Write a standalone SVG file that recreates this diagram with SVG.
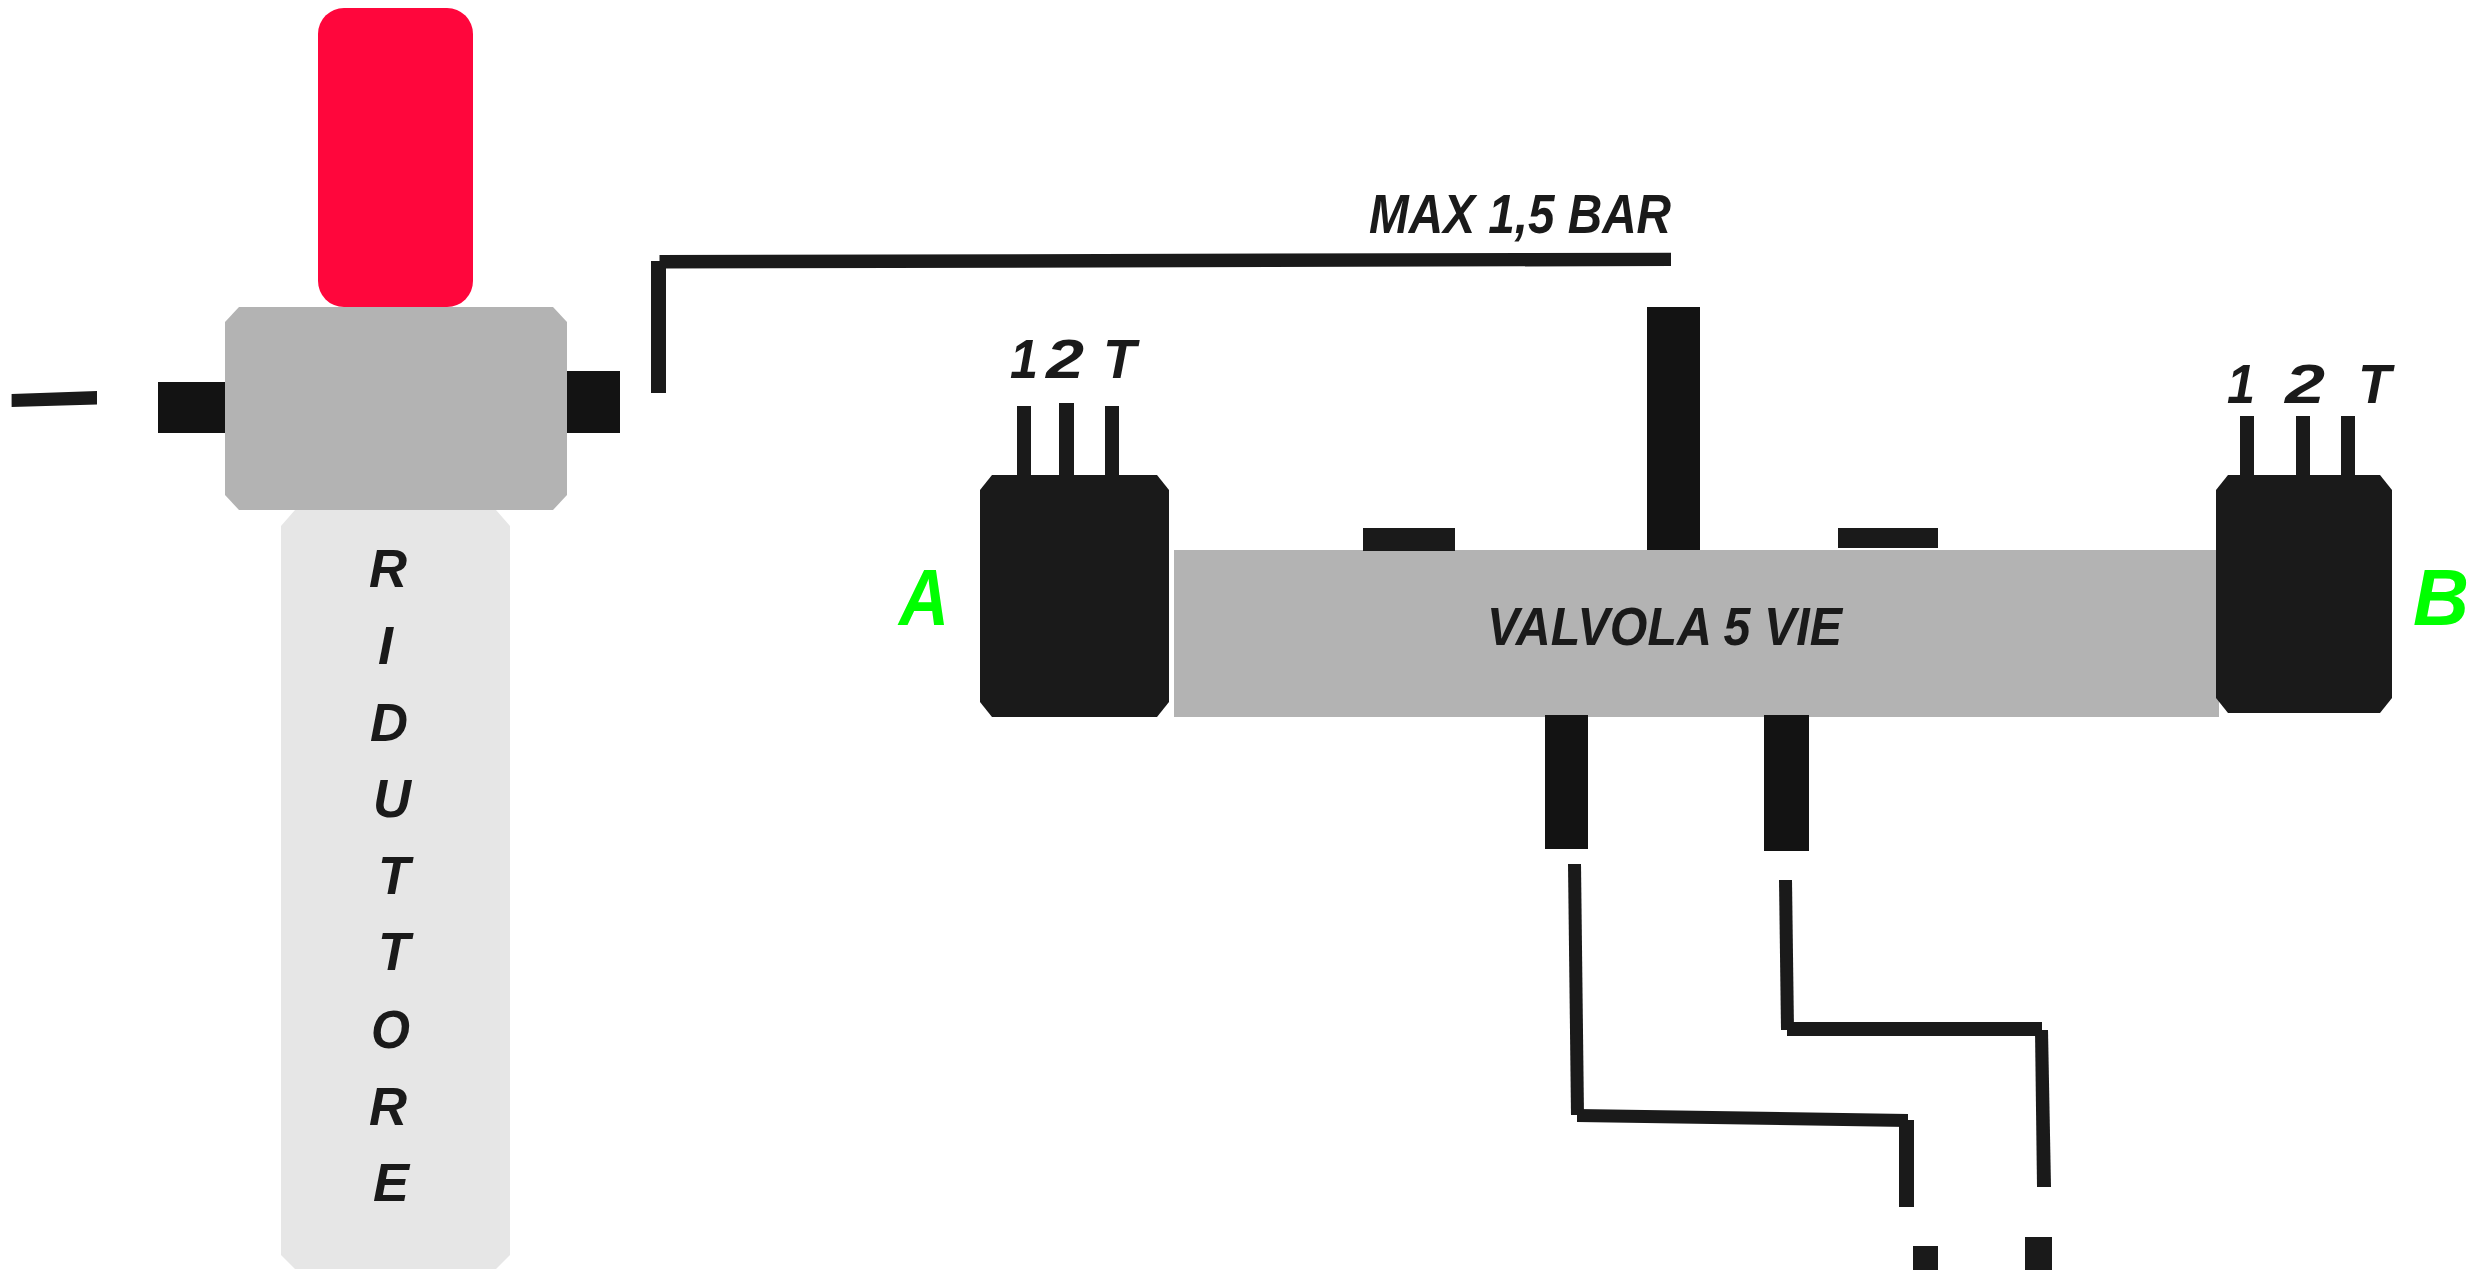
<svg xmlns="http://www.w3.org/2000/svg" width="2486" height="1270" viewBox="0 0 2486 1270">
<style>
.t{font-family:"Liberation Sans",Arial,sans-serif;font-weight:bold;font-style:italic;fill:#1a1a1a}
.g{fill:#00ff00}
.d{fill:#1a1a1a}
.k{fill:#131313}
.m{fill:#b3b3b3}
.r{font-size:54px}
.s{font-size:55px}
</style>
<rect width="2486" height="1270" fill="#fff"/>
<g id="wires">
<polygon class="d" points="11.6,394 97,391 97,404.5 11.6,407"/>
<rect class="d" x="651" y="261" width="15" height="132"/>
<polygon class="d" points="659.5,255 1671,252.7 1671,266 659.5,268.6"/>
<polygon class="d" points="1568,864 1581,864 1584,1115 1571,1115"/>
<polygon class="d" points="1577,1109 1908,1114 1908,1127 1577,1122"/>
<rect class="d" x="1899" y="1120" width="15" height="87"/>
<polygon class="d" points="1779,880 1792,880 1794,1030 1781,1030"/>
<rect class="d" x="1787" y="1022" width="255" height="14"/>
<polygon class="d" points="2035,1030 2048,1030 2051,1187 2037,1187"/>
</g>
<g id="riduttore">
<polygon fill="#e6e6e6" points="295,510 496,510 510,526 510,1255 496,1269 295,1269 281,1255 281,526"/>
<text class="t r" x="369" y="587" textLength="38" lengthAdjust="spacingAndGlyphs">R</text>
<text class="t r" x="378" y="664">I</text>
<text class="t r" x="370" y="741" textLength="38" lengthAdjust="spacingAndGlyphs">D</text>
<text class="t r" x="373" y="817" textLength="38" lengthAdjust="spacingAndGlyphs">U</text>
<text class="t r" x="378" y="894" textLength="32" lengthAdjust="spacingAndGlyphs">T</text>
<text class="t r" x="378" y="970" textLength="32" lengthAdjust="spacingAndGlyphs">T</text>
<text class="t r" x="371" y="1048" textLength="39" lengthAdjust="spacingAndGlyphs">O</text>
<text class="t r" x="369" y="1125" textLength="38" lengthAdjust="spacingAndGlyphs">R</text>
<text class="t r" x="373" y="1201" textLength="36" lengthAdjust="spacingAndGlyphs">E</text>
</g>
<g id="attuatore">
<rect x="318" y="8" width="155" height="299" rx="26" fill="#ff063c"/>
</g>
<g id="corpo">
<rect class="k" x="158" y="382" width="70" height="51"/>
<rect class="k" x="564" y="371" width="56" height="62"/>
<polygon class="m" points="239,307 553,307 567,322 567,495 553,510 239,510 225,495 225,322"/>
</g>
<g id="valvola">
<rect class="k" x="1647" y="307" width="53" height="245"/>
<rect class="m" x="1174" y="550" width="1045" height="167"/>
<rect class="d" x="1363" y="528" width="92" height="23"/>
<rect class="d" x="1838" y="528" width="100" height="20"/>
<rect class="k" x="1545" y="715" width="43" height="134"/>
<rect class="k" x="1764" y="715" width="45" height="136"/>
<text class="t" x="1487" y="645" font-size="53" textLength="355" lengthAdjust="spacingAndGlyphs">VALVOLA 5 VIE</text>
</g>
<g id="bobina-a">
<polygon class="d" points="992,475 1157,475 1169,490 1169,702 1157,717 992,717 980,702 980,490"/>
<rect class="d" x="1017" y="406" width="14" height="75"/>
<rect class="d" x="1059" y="403" width="15" height="78"/>
<rect class="d" x="1105" y="406" width="14" height="75"/>
<text class="t s" x="1010" y="378" textLength="28" lengthAdjust="spacingAndGlyphs">1</text>
<text class="t s" x="1046" y="378" textLength="38" lengthAdjust="spacingAndGlyphs">2</text>
<text class="t s" x="1103" y="378" textLength="33" lengthAdjust="spacingAndGlyphs">T</text>
<text class="g" x="899" y="625" font-family="Liberation Sans,Arial,sans-serif" font-weight="bold" font-style="italic" font-size="79" textLength="50" lengthAdjust="spacingAndGlyphs">A</text>
</g>
<g id="bobina-b">
<polygon class="d" points="2228,475 2380,475 2392,490 2392,698 2380,713 2228,713 2216,698 2216,490"/>
<rect class="d" x="2240" y="416" width="14" height="65"/>
<rect class="d" x="2296" y="416" width="14" height="65"/>
<rect class="d" x="2341" y="416" width="14" height="65"/>
<text class="t s" x="2227" y="403" textLength="28" lengthAdjust="spacingAndGlyphs">1</text>
<text class="t s" x="2285" y="403" textLength="40" lengthAdjust="spacingAndGlyphs">2</text>
<text class="t s" x="2358" y="403" textLength="33" lengthAdjust="spacingAndGlyphs">T</text>
<text class="g" x="2413" y="625" font-family="Liberation Sans,Arial,sans-serif" font-weight="bold" font-style="italic" font-size="79" textLength="56" lengthAdjust="spacingAndGlyphs">B</text>
</g>
<g id="pressione">
<text class="t s" x="1369" y="233" textLength="302" lengthAdjust="spacingAndGlyphs">MAX 1,5 BAR</text>
</g>
<g id="uscite">
<rect class="d" x="1913" y="1246" width="25" height="24"/>
<rect class="d" x="2025" y="1237" width="27" height="33"/>
</g>
</svg>
